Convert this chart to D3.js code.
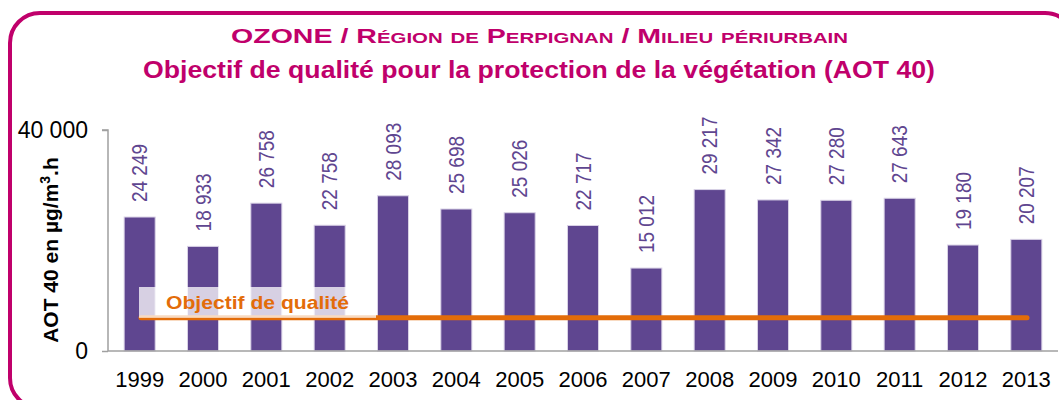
<!DOCTYPE html>
<html>
<head>
<meta charset="utf-8">
<script src="https://d3js.org/d3.v7.min.js"></script>
<style>
  body { margin: 0; background: #fff; }
  svg { display: block; font-family: "Liberation Sans", Arial, sans-serif; }
</style>
</head>
<body>
<svg id="chart"></svg>
<script>
// données AOT 40
const years = ["1999", "2000", "2001", "2002", "2003", "2004", "2005", "2006", "2007", "2008", "2009", "2010", "2011", "2012", "2013"];
const aot40 = [24249, 18933, 26758, 22758, 28093, 25698, 25026, 22717, 15012, 29217, 27342, 27280, 27643, 19180, 20207];
const yTicks = [0, 40000];
const objectif = 6000;

(function() {
  const width = 1059;
  const height = 400;
  const magenta = "#c0006b";
  const purple = "#5f4690";
  const orange = "#e36c09";

  const svg = d3.select("#chart")
      .attr("width", width)
      .attr("height", height);

  // cadre arrondi
  svg.append("rect")
      .attr("x", 10).attr("y", 13)
      .attr("width", 1065).attr("height", 395)
      .attr("rx", 30)
      .attr("fill", "none")
      .attr("stroke", magenta)
      .attr("stroke-width", 4);

  // titres
  svg.append("text")
      .attr("x", 231).attr("y", 43)
      .attr("font-weight", "bold")
      .attr("font-size", 21)
      .attr("font-variant", "small-caps")
      .attr("fill", magenta)
      .attr("textLength", 617)
      .attr("lengthAdjust", "spacingAndGlyphs")
      .text("OZONE / Région de Perpignan / Milieu périurbain");

  svg.append("text")
      .attr("x", 143).attr("y", 78)
      .attr("font-weight", "bold")
      .attr("font-size", 23)
      .attr("fill", magenta)
      .attr("textLength", 792)
      .attr("lengthAdjust", "spacingAndGlyphs")
      .text("Objectif de qualité pour la protection de la végétation (AOT 40)");

  const x = d3.scaleBand()
      .domain(years)
      .range([108, 1058])
      .paddingInner(0.51)
      .paddingOuter(0.255);

  const y = d3.scaleLinear()
      .domain([0, 40000])
      .range([351, 130]);

  // barres
  svg.append("g")
    .selectAll("rect")
    .data(aot40)
    .enter()
    .append("rect")
      .attr("x", (d, i) => x(years[i]))
      .attr("y", d => y(d))
      .attr("width", x.bandwidth())
      .attr("height", d => y(0) - y(d))
      .attr("fill", purple)
      .attr("stroke", "#d9d2e6")
      .attr("stroke-width", 1);

  // étiquettes des valeurs
  const fmt = d3.formatLocale({decimal: ",", thousands: "\u00a0", grouping: [3], currency: ["", " €"]}).format(",");
  svg.append("g")
    .selectAll("text")
    .data(aot40)
    .enter()
    .append("text")
      .attr("transform", (d, i) => "translate(" + (x(years[i]) + x.bandwidth() / 2) + "," + (y(d) - 15) + ") rotate(-90) scale(1,1.12)")
      .attr("dy", "0.36em")
      .attr("font-size", 19)
      .attr("fill", purple)
      .text(d => fmt(d));

  // axe Y
  const yAxis = svg.append("g")
      .attr("transform", "translate(108,0)")
      .call(d3.axisLeft(y).tickValues(yTicks).tickSize(6).tickPadding(14)
        .tickFormat(d => fmt(d)));
  yAxis.selectAll("text").attr("font-size", 23).attr("fill", "#000")
      .attr("font-family", "Liberation Sans, Arial, sans-serif");

  // axe X
  const xAxis = svg.append("g")
      .attr("transform", "translate(0,351)")
      .call(d3.axisBottom(x).tickSize(0).tickPadding(20));
  xAxis.selectAll("text").attr("font-size", 22).attr("fill", "#000")
      .attr("font-family", "Liberation Sans, Arial, sans-serif");
  const step = x.step();
  xAxis.selectAll(".sep")
    .data(d3.range(years.length + 1))
    .enter()
    .append("line")
      .attr("x1", i => 108 + i * step).attr("x2", i => 108 + i * step)
      .attr("y1", 0).attr("y2", 6);
  svg.selectAll(".domain, .tick line, .sep")
      .attr("stroke", "#a0a0a0")
      .attr("stroke-width", 1.5);
  yAxis.select(".domain").attr("d", "M-6,130H0V351");
  xAxis.select(".domain").attr("d", "M108,0H1058");

  // titre axe Y
  svg.append("text")
      .attr("transform", "translate(58,250) rotate(-90)")
      .attr("text-anchor", "middle")
      .attr("font-weight", "bold")
      .attr("font-size", 21)
      .attr("fill", "#000")
      .html("AOT 40 en µg/m<tspan dy='-8' font-size='14'>3</tspan><tspan dy='8'>.h</tspan>");

  // objectif de qualité
  svg.append("line")
      .attr("x1", 141).attr("x2", 1027)
      .attr("y1", y(objectif)).attr("y2", y(objectif))
      .attr("stroke", orange)
      .attr("stroke-width", 5)
      .attr("stroke-linecap", "round");

  svg.append("rect")
      .attr("x", 139).attr("y", 287)
      .attr("width", 237).attr("height", y(objectif) - 287)
      .attr("fill", "#fff")
      .attr("fill-opacity", 0.75);

  svg.append("text")
      .attr("x", 166).attr("y", 309)
      .attr("font-weight", "bold")
      .attr("font-size", 19)
      .attr("fill", orange)
      .attr("textLength", 183)
      .attr("lengthAdjust", "spacingAndGlyphs")
      .text("Objectif de qualité");
})();
</script>
</body>
</html>
